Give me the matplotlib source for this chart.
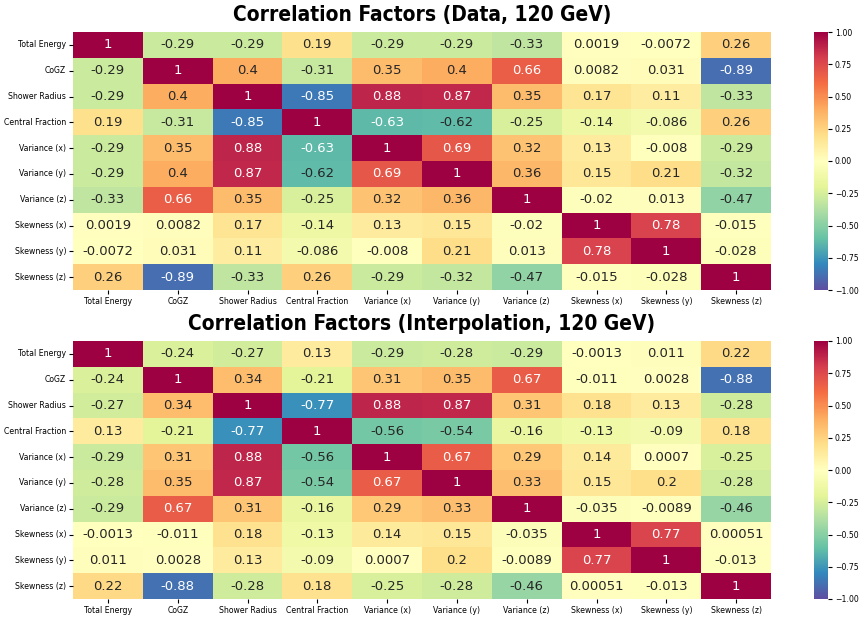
import matplotlib
matplotlib.use("Agg")
import matplotlib.pyplot as plt
import seaborn as sns
import numpy as np

labels = ["Total Energy", "CoGZ", "Shower Radius", "Central Fraction", "Variance (x)",
          "Variance (y)", "Variance (z)", "Skewness (x)", "Skewness (y)", "Skewness (z)"]

corr_data = [
    [1, -0.29, -0.29, 0.19, -0.29, -0.29, -0.33, 0.0019, -0.0072, 0.26],
    [-0.29, 1, 0.4, -0.31, 0.35, 0.4, 0.66, 0.0082, 0.031, -0.89],
    [-0.29, 0.4, 1, -0.85, 0.88, 0.87, 0.35, 0.17, 0.11, -0.33],
    [0.19, -0.31, -0.85, 1, -0.63, -0.62, -0.25, -0.14, -0.086, 0.26],
    [-0.29, 0.35, 0.88, -0.63, 1, 0.69, 0.32, 0.13, -0.008, -0.29],
    [-0.29, 0.4, 0.87, -0.62, 0.69, 1, 0.36, 0.15, 0.21, -0.32],
    [-0.33, 0.66, 0.35, -0.25, 0.32, 0.36, 1, -0.02, 0.013, -0.47],
    [0.0019, 0.0082, 0.17, -0.14, 0.13, 0.15, -0.02, 1, 0.78, -0.015],
    [-0.0072, 0.031, 0.11, -0.086, -0.008, 0.21, 0.013, 0.78, 1, -0.028],
    [0.26, -0.89, -0.33, 0.26, -0.29, -0.32, -0.47, -0.015, -0.028, 1],
]

corr_interp = [
    [1, -0.24, -0.27, 0.13, -0.29, -0.28, -0.29, -0.0013, 0.011, 0.22],
    [-0.24, 1, 0.34, -0.21, 0.31, 0.35, 0.67, -0.011, 0.0028, -0.88],
    [-0.27, 0.34, 1, -0.77, 0.88, 0.87, 0.31, 0.18, 0.13, -0.28],
    [0.13, -0.21, -0.77, 1, -0.56, -0.54, -0.16, -0.13, -0.09, 0.18],
    [-0.29, 0.31, 0.88, -0.56, 1, 0.67, 0.29, 0.14, 0.0007, -0.25],
    [-0.28, 0.35, 0.87, -0.54, 0.67, 1, 0.33, 0.15, 0.2, -0.28],
    [-0.29, 0.67, 0.31, -0.16, 0.29, 0.33, 1, -0.035, -0.0089, -0.46],
    [-0.0013, -0.011, 0.18, -0.13, 0.14, 0.15, -0.035, 1, 0.77, 0.00051],
    [0.011, 0.0028, 0.13, -0.09, 0.0007, 0.2, -0.0089, 0.77, 1, -0.013],
    [0.22, -0.88, -0.28, 0.18, -0.25, -0.28, -0.46, 0.00051, -0.013, 1],
]

titles = ["Correlation Factors (Data, 120 GeV)", "Correlation Factors (Interpolation, 120 GeV)"]

W, H = 863, 620
fig = plt.figure(figsize=(W / 100, H / 100), dpi=100)

def rect(x0, y0, x1, y1):
    return [x0 / W, 1 - y1 / H, (x1 - x0) / W, (y1 - y0) / H]

panels = [
    (corr_data, rect(73, 32, 771, 290), rect(814, 32, 828, 290)),
    (corr_interp, rect(73, 341, 771, 599), rect(814, 341, 828, 599)),
]

for (mat, axr, cbr), title in zip(panels, titles):
    ax = fig.add_axes(axr)
    cax = fig.add_axes(cbr)
    sns.heatmap(np.array(mat), ax=ax, cbar_ax=cax, cmap="Spectral_r", vmin=-1, vmax=1,
                annot=True, fmt=".2g", annot_kws={"size": 9.5},
                xticklabels=labels, yticklabels=labels)
    ax.set_title(title, fontsize=15, fontweight="bold", pad=8, fontstretch="condensed")
    ax.tick_params(axis="both", length=3, pad=2)
    ax.set_xticklabels(labels, rotation=0, fontsize=5.6)
    ax.set_yticklabels(labels, rotation=0, fontsize=5.6)
    cax.tick_params(labelsize=5.6, length=3, pad=2)
    cax.set_yticks([-1, -0.75, -0.5, -0.25, 0, 0.25, 0.5, 0.75, 1])
    cax.set_yticklabels(["\u22121.00", "\u22120.75", "\u22120.50", "\u22120.25", "0.00",
                         "0.25", "0.50", "0.75", "1.00"])

fig.savefig("out.png", dpi=100)
